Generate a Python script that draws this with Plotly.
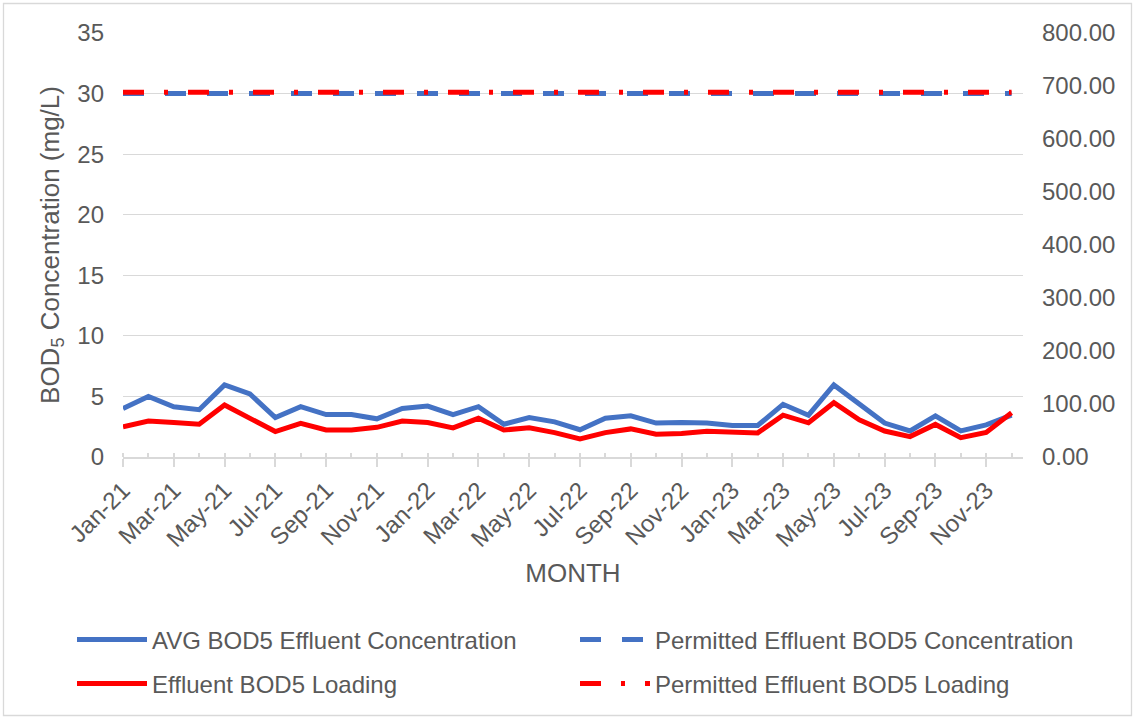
import plotly.graph_objects as go

# Monthly reporting period
months = [
    "Jan-21", "Feb-21", "Mar-21", "Apr-21", "May-21", "Jun-21", "Jul-21", "Aug-21", "Sep-21",
    "Oct-21", "Nov-21", "Dec-21", "Jan-22", "Feb-22", "Mar-22", "Apr-22", "May-22", "Jun-22",
    "Jul-22", "Aug-22", "Sep-22", "Oct-22", "Nov-22", "Dec-22", "Jan-23", "Feb-23", "Mar-23",
    "Apr-23", "May-23", "Jun-23", "Jul-23", "Aug-23", "Sep-23", "Oct-23", "Nov-23", "Dec-23",
]

# Average effluent BOD5 concentration (mg/L)
avg_bod5_conc = [
    4.0, 5.0, 4.15, 3.9, 5.95, 5.2, 3.25, 4.15, 3.5, 3.5, 3.15, 4.0,
    4.2, 3.5, 4.15, 2.7, 3.25, 2.9, 2.25, 3.2, 3.4, 2.8, 2.85, 2.8,
    2.6, 2.6, 4.35, 3.45, 5.95, 4.4, 2.8, 2.15, 3.4, 2.15, 2.65, 3.45,
]

# Effluent BOD5 loading (secondary axis)
bod5_loading = [
    57.0, 68.0, 65.0, 62.0, 98.0, 73.0, 48.0, 63.5, 51.0, 51.0, 56.0, 68.0,
    65.0, 55.0, 73.0, 51.0, 55.0, 46.0, 34.0, 46.0, 53.0, 43.0, 44.5, 48.5,
    46.5, 45.5, 79.0, 64.5, 102.5, 70.0, 49.0, 38.5, 61.5, 36.5, 46.5, 83.5,
]

# Permit limits
permit_conc = [30.0] * len(months)
permit_loading = [688.0] * len(months)

left_ticks = [0, 5, 10, 15, 20, 25, 30, 35]
right_ticks = [0, 100, 200, 300, 400, 500, 600, 700, 800]

BLUE = "#4472C4"
RED = "#FF0000"
GRID = "#D9D9D9"
TEXT = "#595959"
FONT = "Liberation Sans, Arial, sans-serif"
LW = 5

x_idx = list(range(len(months)))
major_vals = x_idx[::2]
major_text = months[::2]

# plot-area geometry in pixels (used for paper-referenced decorations)
W, H = 1134, 717
L, R, T, B = 123, 1023, 33, 457


def px_x(p):
    return (p - L) / (R - L)


def px_y(p):
    return (B - p) / (B - T)


fig = go.Figure()

fig.add_trace(go.Scatter(
    x=x_idx, y=avg_bod5_conc, mode="lines", name="AVG BOD5 Effluent Concentration",
    line=dict(color=BLUE, width=LW), yaxis="y", text=months, legend="legend",
))
fig.add_trace(go.Scatter(
    x=x_idx, y=permit_conc, mode="lines", name="Permitted Effluent BOD5 Concentration",
    line=dict(color=BLUE, width=LW, dash="21px,21px"), yaxis="y", text=months, legend="legend",
))
fig.add_trace(go.Scatter(
    x=x_idx, y=bod5_loading, mode="lines", name="Effluent BOD5 Loading",
    line=dict(color=RED, width=LW), yaxis="y2", text=months, legend="legend2",
))
fig.add_trace(go.Scatter(
    x=x_idx, y=permit_loading, mode="lines", name="Permitted Effluent BOD5 Loading",
    line=dict(color=RED, width=LW, dash="21px,20px,4px,20px"), yaxis="y2", text=months,
    legend="legend2",
))

x_range = [0, 35.45]

legend_style = dict(
    orientation="h", xref="paper", yref="paper", x=px_x(72), xanchor="left",
    yanchor="middle", font=dict(size=24, color=TEXT), itemwidth=70, entrywidth=418,
    bgcolor="rgba(0,0,0,0)", borderwidth=0,
)

fig.update_layout(
    width=W, height=H,
    margin=dict(l=L, r=W - R, t=T, b=H - B, pad=0, autoexpand=False),
    paper_bgcolor="white", plot_bgcolor="white",
    font=dict(family=FONT, color=TEXT, size=24),
    showlegend=True,
    legend=dict(legend_style, y=px_y(640)),
    legend2=dict(legend_style, y=px_y(684)),
    xaxis=dict(
        range=x_range, tickmode="array", tickvals=major_vals, ticktext=major_text,
        tickangle=-45, ticks="outside", ticklen=8, tickcolor=GRID, tickwidth=1.5,
        showline=True, linecolor=GRID, linewidth=1.5, showgrid=False, zeroline=False,
        tickfont=dict(size=24, color=TEXT), automargin=False,
        minor=dict(dtick=1, tick0=0, ticks="inside", ticklen=4, tickcolor=GRID, tickwidth=1.5, showgrid=False),
        title=dict(text="MONTH", font=dict(size=26, color=TEXT), standoff=13),
    ),
    xaxis2=dict(
        range=x_range, overlaying="x", anchor="y", side="bottom",
        tickmode="array", tickvals=major_vals, ticks="inside", ticklen=7,
        tickcolor=GRID, tickwidth=1.5, showticklabels=False, showgrid=False,
        zeroline=False, showline=False, automargin=False,
    ),
    yaxis=dict(
        range=[0, 35], tickmode="array", tickvals=left_ticks,
        showgrid=True, gridcolor=GRID, gridwidth=1.3, zeroline=False, showline=False,
        ticks="", ticklabelstandoff=18, tickfont=dict(size=24, color=TEXT), automargin=False,
        title=dict(text="BOD<sub>5</sub> Concentration (mg/L)", font=dict(size=26, color=TEXT), standoff=10),
    ),
    yaxis2=dict(
        range=[0, 800], tickmode="array", tickvals=right_ticks, tickformat=".2f",
        overlaying="y", side="right", showgrid=False, zeroline=False, showline=False,
        ticks="", ticklabelstandoff=18, tickfont=dict(size=24, color=TEXT), automargin=False,
    ),
    shapes=[dict(
        type="rect", xref="paper", yref="paper",
        x0=px_x(3.5), x1=px_x(1131.5), y0=px_y(715.5), y1=px_y(3.5),
        line=dict(color=GRID, width=1.3), fillcolor="rgba(0,0,0,0)", layer="below",
    )],
)

fig.write_html("out.html")
